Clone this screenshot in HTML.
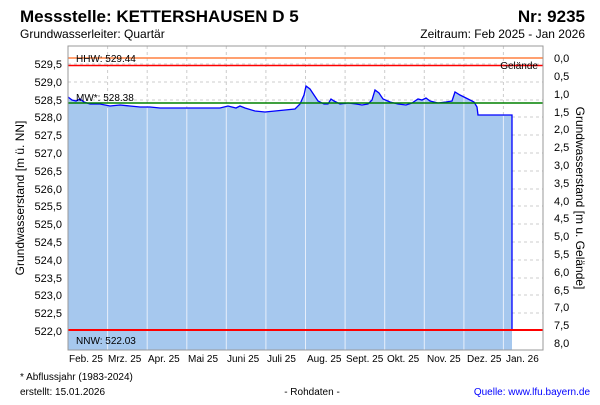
<!DOCTYPE html>
<html><head><meta charset="utf-8"><style>
body{margin:0;background:#fff;}
svg text{font-family:"Liberation Sans",sans-serif;}
</style></head><body>
<svg width="600" height="400" xmlns="http://www.w3.org/2000/svg">
<rect width="600" height="400" fill="#fff"/>
<text x="20" y="22" font-size="17" font-weight="bold">Messstelle: KETTERSHAUSEN D 5</text>
<text x="585" y="22" font-size="17" font-weight="bold" text-anchor="end">Nr: 9235</text>
<text x="20" y="38" font-size="12">Grundwasserleiter: Quartär</text>
<text x="585" y="38" font-size="12" text-anchor="end">Zeitraum: Feb 2025 - Jan 2026</text>
<g stroke="#ccc" stroke-dasharray="3,3" stroke-width="1">
<line x1="68" x2="543" y1="64" y2="64"/><line x1="68" x2="543" y1="82" y2="82"/><line x1="68" x2="543" y1="100" y2="100"/><line x1="68" x2="543" y1="117" y2="117"/><line x1="68" x2="543" y1="135" y2="135"/>
<line x1="68" x2="543" y1="153" y2="153"/><line x1="68" x2="543" y1="171" y2="171"/><line x1="68" x2="543" y1="189" y2="189"/><line x1="68" x2="543" y1="206" y2="206"/><line x1="68" x2="543" y1="224" y2="224"/>
<line x1="68" x2="543" y1="242" y2="242"/><line x1="68" x2="543" y1="260" y2="260"/><line x1="68" x2="543" y1="278" y2="278"/><line x1="68" x2="543" y1="295" y2="295"/><line x1="68" x2="543" y1="313" y2="313"/>
<line x1="107.6" x2="107.6" y1="46" y2="350"/><line x1="147.2" x2="147.2" y1="46" y2="350"/><line x1="186.8" x2="186.8" y1="46" y2="350"/><line x1="226.3" x2="226.3" y1="46" y2="350"/><line x1="265.9" x2="265.9" y1="46" y2="350"/><line x1="305.5" x2="305.5" y1="46" y2="350"/><line x1="345.1" x2="345.1" y1="46" y2="350"/><line x1="384.7" x2="384.7" y1="46" y2="350"/><line x1="424.3" x2="424.3" y1="46" y2="350"/><line x1="463.9" x2="463.9" y1="46" y2="350"/><line x1="503.4" x2="503.4" y1="46" y2="350"/>
</g>
<polygon fill="#a6c8ee" points="68,350 68,97 72,100 76,101 80,99 84,102 90,104 100,104 110,106 120,105 130,106 140,107 150,107 160,108 170,108 180,108 190,108 200,108 210,108 220,108 228,106 236,108 240,106 245,108 255,111 265,112 275,111 285,110 295,109 300,104 304,95 306,86 310,89 314,95 318,101 324,104 328,104 331,99 334,101 340,104 348,103 356,104 362,105 368,104 372,100 375,90 379,93 383,99 390,102 398,104 406,105 412,103 418,99 422,100 426,98 430,101 438,103 446,102 452,101 455,92 460,95 468,99 474,102 477,107 478,115 512,115 512,350"/>
<g stroke="#e6eefa" stroke-width="1">
<line x1="107.6" x2="107.6" y1="108" y2="350"/><line x1="147.2" x2="147.2" y1="108" y2="350"/><line x1="186.8" x2="186.8" y1="109" y2="350"/><line x1="226.3" x2="226.3" y1="108" y2="350"/><line x1="265.9" x2="265.9" y1="113" y2="350"/><line x1="305.5" x2="305.5" y1="88" y2="350"/><line x1="345.1" x2="345.1" y1="105" y2="350"/><line x1="384.7" x2="384.7" y1="100" y2="350"/><line x1="424.3" x2="424.3" y1="100" y2="350"/><line x1="463.9" x2="463.9" y1="97" y2="350"/><line x1="503.4" x2="503.4" y1="116" y2="350"/>
</g>
<polyline fill="none" stroke="#0000ff" stroke-width="1.3" points="68,97 72,100 76,101 80,99 84,102 90,104 100,104 110,106 120,105 130,106 140,107 150,107 160,108 170,108 180,108 190,108 200,108 210,108 220,108 228,106 236,108 240,106 245,108 255,111 265,112 275,111 285,110 295,109 300,104 304,95 306,86 310,89 314,95 318,101 324,104 328,104 331,99 334,101 340,104 348,103 356,104 362,105 368,104 372,100 375,90 379,93 383,99 390,102 398,104 406,105 412,103 418,99 422,100 426,98 430,101 438,103 446,102 452,101 455,92 460,95 468,99 474,102 477,107 478,115 512,115 512,331"/>
<line x1="68" x2="543" y1="58" y2="58" stroke="#ff8040" stroke-width="1.5"/>
<line x1="68" x2="543" y1="65.5" y2="65.5" stroke="#ff0000" stroke-width="1.5"/>
<line x1="68" x2="543" y1="103" y2="103" stroke="#008000" stroke-width="1.5"/>
<line x1="68" x2="543" y1="330" y2="330" stroke="#ff0000" stroke-width="2"/>
<text x="76" y="62" font-size="10">HHW: 529.44</text>
<text x="76" y="101" font-size="10">MW*: 528.38</text>
<text x="76" y="344" font-size="10">NNW: 522.03</text>
<text x="538" y="69" font-size="10" text-anchor="end" fill="#000">Gelände</text>
<rect x="68" y="46" width="475" height="304" fill="none" stroke="#999"/>
<g font-size="11" text-anchor="end">
<text x="62" y="68">529,5</text><text x="62" y="86">529,0</text><text x="62" y="104">528,5</text><text x="62" y="121">528,0</text><text x="62" y="139">527,5</text><text x="62" y="157">527,0</text><text x="62" y="175">526,5</text><text x="62" y="193">526,0</text><text x="62" y="210">525,5</text><text x="62" y="228">525,0</text><text x="62" y="246">524,5</text><text x="62" y="264">524,0</text><text x="62" y="282">523,5</text><text x="62" y="299">523,0</text><text x="62" y="317">522,5</text><text x="62" y="335">522,0</text>
</g>
<g font-size="11">
<text x="554" y="62">0,0</text><text x="554" y="80">0,5</text><text x="554" y="98">1,0</text><text x="554" y="116">1,5</text><text x="554" y="133">2,0</text><text x="554" y="151">2,5</text><text x="554" y="169">3,0</text><text x="554" y="187">3,5</text><text x="554" y="205">4,0</text><text x="554" y="222">4,5</text><text x="554" y="240">5,0</text><text x="554" y="258">5,5</text><text x="554" y="276">6,0</text><text x="554" y="294">6,5</text><text x="554" y="311">7,0</text><text x="554" y="329">7,5</text><text x="554" y="347">8,0</text>
</g>
<text transform="translate(24,198) rotate(-90)" font-size="12" text-anchor="middle">Grundwasserstand [m ü. NN]</text>
<text transform="translate(576,198) rotate(90)" font-size="12" text-anchor="middle">Grundwasserstand [m u. Gelände]</text>
<g font-size="10">
<text x="69" y="362">Feb. 25</text><text x="108" y="362">Mrz. 25</text><text x="148" y="362">Apr. 25</text><text x="188" y="362">Mai 25</text><text x="227" y="362">Juni 25</text><text x="267" y="362">Juli 25</text><text x="307" y="362">Aug. 25</text><text x="346" y="362">Sept. 25</text><text x="387" y="362">Okt. 25</text><text x="427" y="362">Nov. 25</text><text x="467" y="362">Dez. 25</text><text x="506" y="362">Jan. 26</text>
</g>
<text x="20" y="380" font-size="10">* Abflussjahr (1983-2024)</text>
<text x="20" y="395" font-size="10">erstellt:  15.01.2026</text>
<text x="312" y="395" font-size="10" text-anchor="middle">- Rohdaten -</text>
<text x="590" y="395" font-size="10" text-anchor="end" fill="#0000ff">Quelle: www.lfu.bayern.de</text>
</svg>
</body></html>
